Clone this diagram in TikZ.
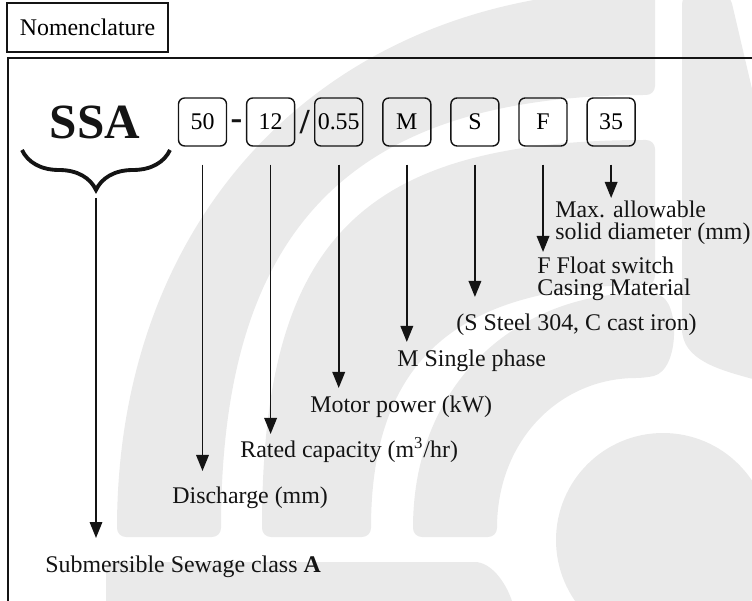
\documentclass[tikz,border=0pt]{standalone}
\usepackage{fontspec}
\setmainfont{Liberation Serif}
\usepackage{tikz}
\usetikzlibrary{positioning,arrows.meta,calc,decorations.pathreplacing}
\definecolor{ink}{RGB}{20,20,20}
\definecolor{wmark}{RGB}{234,234,234}

\begin{document}
\begin{tikzpicture}[
  >={Triangle[length=3.2mm, width=2.5mm]},
  code/.style={rounded corners=3.5pt, draw=ink, line width=0.8pt, minimum width=0.96cm, minimum height=0.96cm, inner sep=1pt, font=\fontsize{13.6}{15}\selectfont},
  sep/.style={font=\fontsize{20}{20}\selectfont\bfseries, inner sep=0pt, text=ink},
  lab/.style={font=\fontsize{13.6}{12.8}\selectfont, text=ink, anchor=base west, inner sep=0pt, align=left},
  arr/.style={->, draw=ink, line width=1pt, shorten <=0.36cm},
  wm/.style={fill=wmark, rounded corners=5pt}
]
\useasboundingbox (0,0) rectangle (15.04,-12.02);

% ---------------- WATERMARK ----------------
\fill[wm] (2.34,-10.74) .. controls (2.34,-4.2) and (6.64,0.2) .. (13.1,0.2) -- (13.1,-1.9) .. controls (7.02,-1.9) and (4.42,-4.56) .. (4.42,-10.74) -- cycle;
\fill[wm] (5.24,-10.74) .. controls (5.24,-4.8) and (7.2,-2.8) .. (13.1,-2.8) -- (13.1,-5.7) .. controls (9.12,-5.7) and (7.42,-7.23) .. (7.42,-10.74) -- cycle;
\fill[wm] (8.26,-10.74) .. controls (8.26,-7.6) and (10.4,-5.86) .. (13.0,-5.86) .. controls (13.6,-6.0) and (13.6,-7.4) .. (12.9,-7.56) .. controls (11.2,-7.56) and (9.94,-8.8) .. (9.94,-10.74) -- cycle;
\fill[wm] (13.26,-10.8) circle[radius=2.14];
\fill[wm] (13.64,0.1) -- (14.6,0.1) -- (15.2,-2.46) -- (15.2,-7.62) .. controls (14.4,-7.4) and (13.64,-7.2) .. (13.64,-6.4) -- cycle;
\fill[wm] (2.12,-12.2) -- (2.12,-11.24) -- (9.32,-11.24) .. controls (9.8,-11.24) and (10.1,-11.6) .. (10.3,-12.2) -- cycle;

% ---------------- FRAME ----------------
\node (nom) at (1.75,-0.55) [draw=ink, line width=0.9pt, minimum width=3.22cm, minimum height=0.98cm, font=\fontsize{13.6}{15}\selectfont] {Nomenclature};
\draw[ink, line width=1pt] (0.16,-12.2) |- (15.2,-1.16);

% ---------------- CODE ----------------
\node (ssa) at (1.9,-2.78) [anchor=base, text=ink, font=\fontsize{28}{30}\selectfont\bfseries] {SSA};
\node (b50) at (4.05,-2.44) [code] {50};
\node (b12) [code, right=0.374cm of b50] {12};
\node (b055) [code, right=0.374cm of b12] {0.55};
\node (bM) [code, right=0.374cm of b055] {M};
\node (bS) [code, right=0.374cm of bM] {S};
\node (bF) [code, right=0.374cm of bS] {F};
\node (b35) [code, right=0.374cm of bF] {35};
\node (dash) at ($(b50.east)!0.5!(b12.west)+(0,-0.06)$) [sep] {-};
\node (slash) at ($(b12.east)!0.5!(b055.west)$) [sep] {/};

\coordinate (brL) at (0.44,-3.0);
\coordinate (brR) at (3.4,-3.0);
\draw[ink, line width=2.2pt, decorate, decoration={brace, mirror, amplitude=0.8cm}] (brL) -- (brR);

% ---------------- LABELS ----------------
\node (lMax) at (11.10,-4.80) [lab] {Max. allowable\\solid diameter (mm)};
\node (lFloat) at (10.74,-5.92) [lab] {F Float switch\\Casing Material};
\node (lSteel) at (9.12,-6.62) [lab] {(S Steel 304, C cast iron)};
\node (lSingle) at (7.94,-7.34) [lab] {M Single phase};
\node (lMotor) at (6.20,-8.26) [lab] {Motor power (kW)};
\node (lRated) at (4.80,-9.16) [lab] {Rated capacity (m\textsuperscript{3}/hr)};
\node (lDis) at (3.44,-10.06) [lab] {Discharge (mm)};
\node (lClass) at (0.90,-11.44) [lab] {Submersible Sewage class \textbf{A}};

% ---------------- ARROWS ----------------
\coordinate (sA) at (1.92,-3.96);
\coordinate (tA) at (1.92,-10.76);
\coordinate (t50) at (b50 |- 0,-9.42);
\coordinate (t12) at (b12 |- 0,-8.68);
\coordinate (t055) at (b055 |- 0,-7.76);
\coordinate (tM) at (bM |- 0,-6.84);
\coordinate (tS) at (bS |- 0,-5.94);
\coordinate (tF) at (bF |- 0,-5.04);
\coordinate (t35) at (b35 |- 0,-3.96);
\draw[->, draw=ink, line width=1pt] (sA) -- (tA);
\draw[arr] (b50.south) -- (t50);
\draw[arr] (b12.south) -- (t12);
\draw[arr] (b055.south) -- (t055);
\draw[arr] (bM.south) -- (tM);
\draw[arr] (bS.south) -- (tS);
\draw[arr] (bF.south) -- (tF);
\draw[arr] (b35.south) -- (t35);

\end{tikzpicture}
\end{document}
